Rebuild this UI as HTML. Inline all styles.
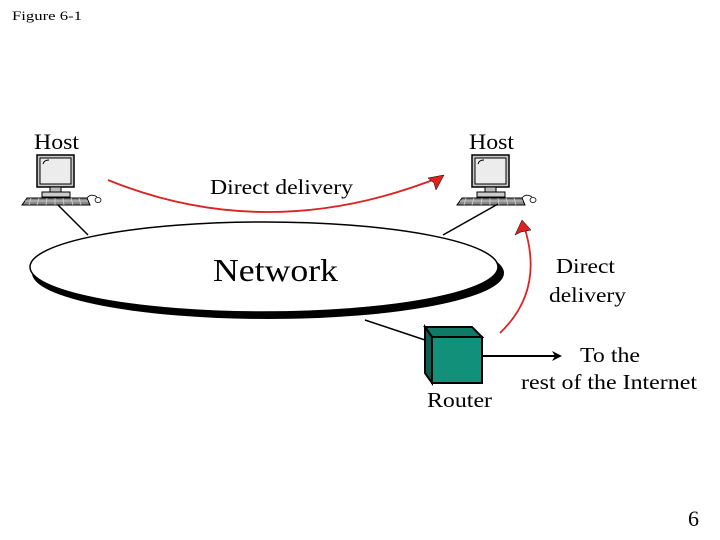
<!DOCTYPE html>
<html><head><meta charset="utf-8"><style>
html,body{margin:0;padding:0;background:#fff}
svg{display:block}
text{font-family:"Liberation Serif",serif}
</style></head><body>
<svg width="720" height="540" viewBox="0 0 720 540" xmlns="http://www.w3.org/2000/svg">
<defs>
<g id="pc">
<rect x="0" y="0" width="37" height="32" fill="#c8c8c8" stroke="#000" stroke-width="1.5"/>
<rect x="3" y="3" width="31" height="26" fill="#ececec" stroke="#000" stroke-width="1"/>
<path d="M6 9 Q7 5 12 5" fill="none" stroke="#000" stroke-width="1"/>
<rect x="13" y="32" width="11" height="5" fill="#bbb" stroke="#000" stroke-width="1"/>
<rect x="5" y="37" width="28" height="5" fill="#ccc" stroke="#000" stroke-width="1"/>
<path d="M-10 43 L50 43 L53 50 L-15 50 Z" fill="#888" stroke="#000" stroke-width="1"/>
<path d="M-12 46 L51 46 M-6 43 L-8 50 M2 43 L0 50 M10 43 L9 50 M18 43 L18 50 M26 43 L27 50 M34 43 L36 50 M42 43 L44 50" stroke="#ddd" stroke-width="0.7"/>
<path d="M50 43 Q54 38 60 42" fill="none" stroke="#000" stroke-width="0.8"/>
<ellipse cx="61" cy="45" rx="3" ry="2.5" fill="#fff" stroke="#000" stroke-width="0.8"/>
</g>
<marker id="ar" markerWidth="10" markerHeight="10" refX="8" refY="5" orient="auto" markerUnits="userSpaceOnUse"><path d="M0 0 L10 5 L0 10 L3 5 Z" fill="#000"/></marker>
</defs>
<text x="12" y="20" font-size="13" textLength="70" lengthAdjust="spacingAndGlyphs">Figure  6-1</text>
<text x="34" y="149" font-size="22" textLength="45" lengthAdjust="spacingAndGlyphs">Host</text>
<text x="469" y="149" font-size="22" textLength="45" lengthAdjust="spacingAndGlyphs">Host</text>
<use href="#pc" x="37" y="155"/>
<use href="#pc" x="472" y="155"/>
<line x1="58" y1="205" x2="88" y2="235" stroke="#000" stroke-width="1.5"/>
<line x1="498" y1="204" x2="443" y2="235" stroke="#000" stroke-width="1.5"/>
<line x1="425" y1="340" x2="365" y2="320" stroke="#000" stroke-width="1.5"/>
<ellipse cx="268" cy="273" rx="236" ry="46" fill="#000"/>
<ellipse cx="264" cy="267" rx="234" ry="45" fill="#fff" stroke="#000" stroke-width="1.5"/>
<text x="213" y="281" font-size="32" textLength="125" lengthAdjust="spacingAndGlyphs">Network</text>
<path d="M108 180 Q270 246 443 176" fill="none" stroke="#d22" stroke-width="1.8"/>
<path d="M444 175 L428 178 L434 183 L436 190 Z" fill="#d22" stroke="#000" stroke-width="0.5"/>
<path d="M500 333 Q545 290 524 226" fill="none" stroke="#d22" stroke-width="1.8"/>
<path d="M522 220 L515 235 L521 232 L531 230 Z" fill="#d22" stroke="#000" stroke-width="0.5"/>
<text x="210" y="194" font-size="21" textLength="143" lengthAdjust="spacingAndGlyphs">Direct delivery</text>
<text x="556" y="273" font-size="21" textLength="59" lengthAdjust="spacingAndGlyphs">Direct</text>
<text x="549" y="302" font-size="21" textLength="77" lengthAdjust="spacingAndGlyphs">delivery</text>
<path d="M425 327 L472 327 L482 337 L432 337 Z" fill="#0f7a66" stroke="#000" stroke-width="2"/>
<path d="M425 327 L432 337 L432 383 L425 373 Z" fill="#0b5f50" stroke="#000" stroke-width="2"/>
<rect x="432" y="337" width="50" height="46" fill="#12917a" stroke="#000" stroke-width="2"/>
<line x1="483" y1="356" x2="560" y2="356" stroke="#000" stroke-width="2" marker-end="url(#ar)"/>
<text x="580" y="362" font-size="21" textLength="60" lengthAdjust="spacingAndGlyphs">To the</text>
<text x="521" y="389" font-size="21" textLength="176" lengthAdjust="spacingAndGlyphs">rest of the Internet</text>
<text x="427" y="407" font-size="21" textLength="65" lengthAdjust="spacingAndGlyphs">Router</text>
<text x="688" y="526" font-size="22">6</text>
</svg>
</body></html>
